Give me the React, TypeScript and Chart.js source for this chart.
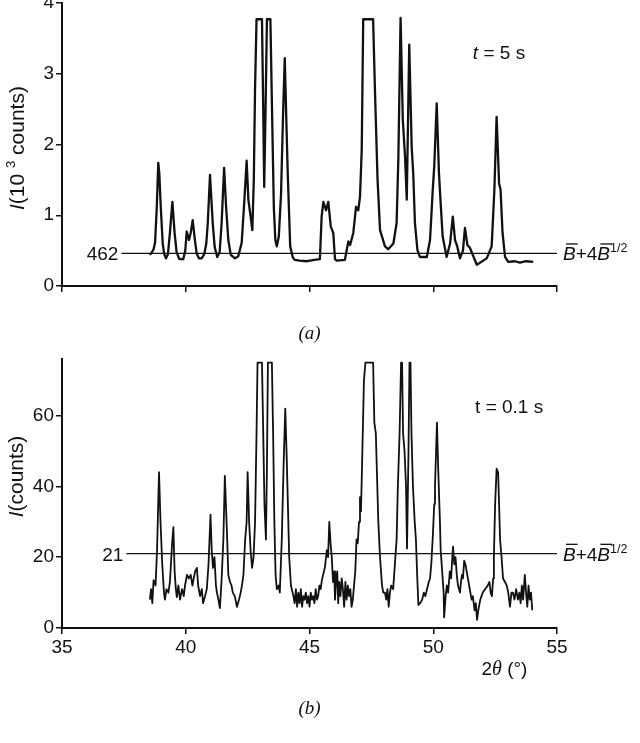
import { useEffect, useRef } from 'react';
import { Chart, registerables } from 'chart.js';
import type { ChartConfiguration, Plugin } from 'chart.js';

Chart.register(...registerables);

// panel (a): t = 5 s, intensity in 10^3 counts
const thetaA = [
  38.55, 38.62, 38.7, 38.76, 38.83, 38.89, 38.93, 38.99, 39.07, 39.13, 39.2, 39.28, 39.36, 39.46, 39.55,
  39.63, 39.74, 39.9, 39.98, 40.04, 40.13, 40.2, 40.28, 40.37, 40.44, 40.54, 40.64, 40.75, 40.83, 40.89,
  40.98, 41.09, 41.17, 41.27, 41.37, 41.45, 41.55, 41.63, 41.72, 41.82, 41.99, 42.12, 42.26, 42.37, 42.46,
  42.53, 42.64, 42.69, 42.75, 42.8, 42.86, 43.08, 43.13, 43.17, 43.22, 43.28, 43.42, 43.48, 43.56, 43.62,
  43.68, 43.76, 43.85, 43.93, 44.0, 44.06, 44.12, 44.22, 44.32, 44.4, 44.6, 44.9, 45.2, 45.42, 45.49,
  45.56, 45.67, 45.76, 45.86, 45.96, 46.03, 46.1, 46.43, 46.57, 46.64, 46.77, 46.88, 46.97, 47.04, 47.11,
  47.17, 47.57, 47.65, 47.75, 47.85, 48.05, 48.18, 48.39, 48.52, 48.59, 48.68, 48.77, 48.86, 48.93, 49.03,
  49.13, 49.19, 49.26, 49.36, 49.46, 49.74, 49.87, 49.98, 50.04, 50.14, 50.23, 50.3, 50.38, 50.54, 50.68,
  50.79, 50.88, 50.97, 51.08, 51.2, 51.28, 51.38, 51.48, 51.76, 52.16, 52.36, 52.47, 52.56, 52.66, 52.72,
  52.8, 52.9, 53.03, 53.3, 53.5, 53.75, 54.04,
];
const intensityA = [
  0.44, 0.47, 0.52, 0.61, 1.12, 1.74, 1.6, 1.12, 0.6, 0.45, 0.39, 0.45, 0.75, 1.19, 0.75,
  0.48, 0.38, 0.38, 0.5, 0.77, 0.65, 0.75, 0.93, 0.65, 0.46, 0.39, 0.39, 0.45, 0.6, 0.89,
  1.57, 0.89, 0.55, 0.41, 0.48, 0.89, 1.67, 1.12, 0.65, 0.44, 0.39, 0.42, 0.61, 1.22, 1.77,
  1.22, 0.93, 0.79, 1.5, 2.8, 3.77, 3.77, 2.5, 1.4, 2.4, 3.77, 3.77, 2.6, 1.1, 0.65,
  0.56, 0.7, 1.3, 2.4, 3.22, 2.4, 1.6, 0.56, 0.41, 0.37, 0.36, 0.35, 0.37, 0.38, 0.98,
  1.19, 1.07, 1.19, 0.84, 0.75, 0.38, 0.36, 0.37, 0.63, 0.58, 0.75, 1.12, 1.07, 1.26, 1.92,
  3.77, 3.77, 2.7, 1.5, 0.79, 0.56, 0.52, 0.6, 0.89, 1.8, 3.79, 2.35, 1.83, 1.22, 3.41,
  1.95, 1.6, 0.89, 0.51, 0.41, 0.41, 0.65, 1.36, 1.69, 2.58, 1.6, 1.17, 0.7, 0.41, 0.6,
  0.98, 0.65, 0.56, 0.39, 0.5, 0.82, 0.58, 0.54, 0.3, 0.39, 0.56, 1.36, 2.39, 1.45, 1.36,
  0.75, 0.41, 0.34, 0.35, 0.33, 0.35, 0.34,
];

// panel (b): t = 0.1 s, counts
const thetaB = [
  38.55, 38.6, 38.65, 38.7, 38.78, 38.84, 38.92, 38.98, 39.05, 39.12, 39.16, 39.22, 39.3, 39.36, 39.45,
  39.5, 39.55, 39.6, 39.64, 39.7, 39.77, 39.85, 39.92, 39.97, 40.05, 40.12, 40.2, 40.27, 40.32, 40.38,
  40.45, 40.5, 40.58, 40.65, 40.7, 40.78, 40.85, 40.92, 41.0, 41.05, 41.1, 41.16, 41.22, 41.26, 41.32,
  41.38, 41.45, 41.52, 41.58, 41.66, 41.72, 41.79, 41.85, 41.9, 41.98, 42.07, 42.15, 42.22, 42.27, 42.33,
  42.4, 42.46, 42.5, 42.56, 42.62, 42.68, 42.74, 42.8, 42.86, 42.9, 43.08, 43.13, 43.18, 43.24, 43.28,
  43.32, 43.48, 43.53, 43.58, 43.63, 43.68, 43.75, 43.8, 43.88, 43.95, 44.02, 44.08, 44.18, 44.25, 44.35,
  44.4, 44.45, 44.5, 44.55, 44.6, 44.65, 44.7, 44.75, 44.8, 44.85, 44.9, 44.95, 45.0, 45.05, 45.1,
  45.15, 45.2, 45.25, 45.3, 45.35, 45.4, 45.45, 45.5, 45.55, 45.62, 45.7, 45.75, 45.8, 45.85, 45.9,
  45.95, 46.0, 46.03, 46.08, 46.12, 46.16, 46.2, 46.25, 46.3, 46.35, 46.4, 46.45, 46.5, 46.55, 46.6,
  46.65, 46.7, 46.75, 46.8, 46.85, 46.9, 46.95, 47.0, 47.04, 47.08, 47.12, 47.2, 47.26, 47.57, 47.62,
  47.68, 47.72, 47.78, 47.85, 47.93, 47.98, 48.05, 48.1, 48.15, 48.2, 48.25, 48.3, 48.38, 48.45, 48.52,
  48.57, 48.64, 48.7, 48.74, 48.78, 48.84, 48.9, 48.94, 49.0, 49.04, 49.08, 49.12, 49.18, 49.25, 49.3,
  49.35, 49.4, 49.47, 49.55, 49.62, 49.68, 49.75, 49.82, 49.87, 49.92, 49.98, 50.04, 50.07, 50.15, 50.2,
  50.27, 50.3, 50.34, 50.38, 50.42, 50.44, 50.5, 50.55, 50.6, 50.67, 50.72, 50.77, 50.8, 50.85, 50.9,
  50.95, 51.0, 51.08, 51.12, 51.16, 51.2, 51.25, 51.3, 51.35, 51.4, 51.45, 51.5, 51.55, 51.6, 51.67,
  51.72, 51.77, 51.82, 51.9, 51.95, 52.0, 52.1, 52.2, 52.27, 52.32, 52.37, 52.42, 52.45, 52.5, 52.56,
  52.62, 52.66, 52.7, 52.76, 52.82, 52.9, 52.97, 53.03, 53.1, 53.16, 53.22, 53.28, 53.35, 53.42, 53.48,
  53.53, 53.58, 53.63, 53.7, 53.75, 53.8, 53.85, 53.9, 53.95, 54.0,
];
const countsB = [
  8, 11, 7, 13.5, 12, 22, 44, 30, 18, 10, 8, 11, 10, 13, 24,
  28.5, 16, 11, 8.7, 12, 8, 11, 9, 12, 15, 14, 15, 12, 14, 16,
  17, 12, 9, 11, 7, 9, 11, 18, 32, 22, 17, 20, 12, 10, 8,
  5.6, 14, 25, 43, 28, 15, 13, 12, 10, 9, 6, 8, 10, 12, 15,
  25, 30, 44, 30, 22, 17, 20, 30, 55, 75, 75, 55, 35, 25, 45,
  75, 75, 55, 30, 15, 11, 12, 10, 25, 45, 62, 48, 20, 12, 9,
  7, 11, 6, 10, 7, 11, 6, 9, 8, 10, 7, 9, 6, 10, 8,
  9, 7, 11, 8, 9, 12, 11, 13.5, 15, 17, 22, 20, 30, 24, 20,
  13, 16, 8, 14, 16, 7, 13, 9, 14, 11, 6, 13, 8, 12, 9,
  11, 6, 8, 12, 16, 25, 24, 30, 37, 33, 45, 70, 75, 75, 58,
  55, 45, 30, 20, 12, 10, 10, 8, 11, 6, 10, 12, 11, 18, 25,
  40, 55, 75, 75, 55, 50, 40, 22.5, 50, 75, 75, 55, 40, 30, 25,
  15, 6.5, 7, 8, 10, 9, 11, 13, 14, 18, 25.6, 35, 40, 58, 45,
  30, 22, 18, 14, 10, 3, 9, 12, 10, 16, 14, 20, 23, 18, 20,
  15, 12, 10, 13, 15, 14, 19, 18, 16, 14, 12, 10, 8, 9, 5,
  7, 2.3, 5, 8, 9, 10, 11, 12, 13, 10, 9, 14, 20, 35, 45,
  44, 35, 25, 20, 14, 13, 12, 10, 6, 10, 10, 8, 11, 8, 10,
  7, 12, 8, 15, 10, 6, 12, 8, 10, 5,
];

const thetaRange = [35, 55];
const yMaxA = 4;
const yMaxB = 76;
const thresholdA = 0.462;
const thresholdB = 21;
const thresholdStartA = 37.4;
const thresholdStartB = 37.6;

const SANS = '"Liberation Sans", Arial, sans-serif';
const SERIF = '"Liberation Serif", "Times New Roman", serif';
const INK = '#111';

type Run = { t: string; font: string; dy?: number; bar?: boolean };

// draws a row of differently styled text pieces, y is the baseline
function drawRuns(ctx: CanvasRenderingContext2D, runs: Run[], x: number, y: number, align: 'left' | 'right' | 'center') {
  ctx.save();
  ctx.fillStyle = INK;
  ctx.textAlign = 'left';
  ctx.textBaseline = 'alphabetic';
  let total = 0;
  for (const r of runs) {
    ctx.font = r.font;
    total += ctx.measureText(r.t).width;
  }
  let cx = align === 'left' ? x : align === 'right' ? x - total : x - total / 2;
  for (const r of runs) {
    ctx.font = r.font;
    const w = ctx.measureText(r.t).width;
    ctx.fillText(r.t, cx, y + (r.dy || 0));
    if (r.bar) ctx.fillRect(cx + 3, y - 17, w - 1, 1.3);
    cx += w;
  }
  ctx.restore();
}

const f = (size: number, style = '', family = SANS) => `${style} ${size}px ${family}`.trim();

const thresholdLabel: Run[] = [
  { t: 'B', font: f(19, 'italic'), bar: true },
  { t: '+4', font: f(19) },
  { t: 'B', font: f(19, 'italic'), bar: true },
  { t: '1/2', font: f(12.5), dy: -8 },
];

interface PanelSpec {
  theta: number[];
  values: number[];
  yMax: number;
  yStep: number;
  threshold: number;
  thresholdStart: number;
  thresholdText: string;
  showXLabels: boolean;
  lineWidth: number;
  padTop: number;
  xAxisHeight: number;
  drawText: (chart: Chart) => void;
}

function buildConfig(p: PanelSpec): ChartConfiguration<'line'> {
  const textPlugin: Plugin<'line'> = {
    id: 'panelText',
    afterDraw(chart) {
      const ctx = chart.ctx;
      const x = chart.scales.x;
      const y = chart.scales.y;
      const ly = y.getPixelForValue(p.threshold);
      drawRuns(ctx, [{ t: p.thresholdText, font: f(19) }], x.getPixelForValue(p.thresholdStart) - 3, ly + 7, 'right');
      drawRuns(ctx, thresholdLabel, x.right + 6, ly + 7, 'left');
      p.drawText(chart);
    },
  };
  return {
    type: 'line',
    data: {
      datasets: [
        {
          data: p.theta.map((t, i) => ({ x: t, y: p.values[i] })),
          borderColor: INK,
          borderWidth: p.lineWidth,
          pointRadius: 0,
          tension: 0,
          borderJoinStyle: 'round',
        },
        {
          data: [
            { x: p.thresholdStart, y: p.threshold },
            { x: thetaRange[1], y: p.threshold },
          ],
          borderColor: INK,
          borderWidth: 1.2,
          pointRadius: 0,
        },
      ],
    },
    options: {
      responsive: false,
      animation: false,
      events: [],
      layout: { padding: { top: p.padTop, right: 83, left: 0, bottom: 0 } },
      plugins: { legend: { display: false }, tooltip: { enabled: false } },
      scales: {
        x: {
          type: 'linear',
          min: thetaRange[0],
          max: thetaRange[1],
          afterFit: (s) => {
            s.height = p.xAxisHeight;
          },
          ticks: {
            stepSize: 5,
            display: p.showXLabels,
            color: INK,
            padding: 2,
            font: { family: SANS, size: 19 },
          },
          grid: { drawOnChartArea: false, drawTicks: true, tickLength: 6, color: INK, lineWidth: 1.5 },
          border: { display: true, color: INK, width: 2 },
        },
        y: {
          min: 0,
          max: p.yMax,
          afterFit: (s) => {
            s.width = 62;
          },
          ticks: {
            stepSize: p.yStep,
            includeBounds: false,
            color: INK,
            padding: 2,
            font: { family: SANS, size: 19 },
          },
          grid: { drawOnChartArea: false, drawTicks: true, tickLength: 6, color: INK, lineWidth: 1.5 },
          border: { display: true, color: INK, width: 2 },
        },
      },
    },
    plugins: [textPlugin],
  };
}

function drawYTitle(ctx: CanvasRenderingContext2D, runs: Run[], cx: number, cy: number) {
  ctx.save();
  ctx.translate(cx, cy);
  ctx.rotate(-Math.PI / 2);
  drawRuns(ctx, runs, 0, 7, 'center');
  ctx.restore();
}

const panelA: PanelSpec = {
  theta: thetaA,
  values: intensityA,
  yMax: yMaxA,
  yStep: 1,
  threshold: thresholdA,
  thresholdStart: thresholdStartA,
  thresholdText: '462',
  showXLabels: false,
  lineWidth: 2.3,
  padTop: 23,
  xAxisHeight: 59,
  drawText: (chart) => {
    const ctx = chart.ctx;
    const x = chart.scales.x;
    const y = chart.scales.y;
    drawRuns(
      ctx,
      [
        { t: 't', font: f(19, 'italic') },
        { t: ' = 5 s', font: f(19) },
      ],
      x.getPixelForValue(51.6),
      y.getPixelForValue(3.31) + 7,
      'left',
    );
    drawYTitle(
      ctx,
      [
        { t: 'I', font: f(21, 'italic') },
        { t: '(10 ', font: f(21) },
        { t: '3', font: f(13), dy: -9 },
        { t: ' counts)', font: f(21) },
      ],
      17,
      y.getPixelForValue(1.95),
    );
    drawRuns(ctx, [{ t: '(a)', font: f(19, 'italic', SERIF) }], (x.left + x.right) / 2, chart.chartArea.bottom + 53, 'center');
  },
};

const panelB: PanelSpec = {
  theta: thetaB,
  values: countsB,
  yMax: yMaxB,
  yStep: 20,
  threshold: thresholdB,
  thresholdStart: thresholdStartB,
  thresholdText: '21',
  showXLabels: true,
  lineWidth: 1.8,
  padTop: 14,
  xAxisHeight: 115,
  drawText: (chart) => {
    const ctx = chart.ctx;
    const x = chart.scales.x;
    const y = chart.scales.y;
    drawRuns(ctx, [{ t: 't = 0.1 s', font: f(19) }], x.getPixelForValue(51.69), y.getPixelForValue(62.8) + 7, 'left');
    drawRuns(
      ctx,
      [
        { t: '2', font: f(19) },
        { t: 'θ', font: f(20, 'italic', SERIF) },
        { t: ' (°)', font: f(19) },
      ],
      x.getPixelForValue(51.95),
      chart.chartArea.bottom + 47,
      'left',
    );
    drawYTitle(
      ctx,
      [
        { t: 'I', font: f(21, 'italic') },
        { t: '(counts)', font: f(21) },
      ],
      16,
      y.getPixelForValue(42.8),
    );
    drawRuns(ctx, [{ t: '(b)', font: f(19, 'italic', SERIF) }], (x.left + x.right) / 2, chart.chartArea.bottom + 86, 'center');
  },
};

function Panel({ spec, top, height }: { spec: PanelSpec; top: number; height: number }) {
  const canvasRef = useRef<HTMLCanvasElement>(null);
  const chartRef = useRef<Chart | null>(null);

  useEffect(() => {
    if (!canvasRef.current) return;
    if (chartRef.current) chartRef.current.destroy();
    chartRef.current = new Chart(canvasRef.current, buildConfig(spec) as any);
    return () => {
      if (chartRef.current) {
        chartRef.current.destroy();
        chartRef.current = null;
      }
    };
  }, [spec]);

  return (
    <canvas
      ref={canvasRef}
      width={640}
      height={height}
      style={{ position: 'absolute', left: 0, top, width: 640, height }}
    />
  );
}

export default function App() {
  return (
    <div
      style={{
        position: 'absolute',
        left: 0,
        top: 0,
        width: 640,
        height: 743,
        overflow: 'hidden',
        background: '#fff',
      }}
    >
      <Panel spec={panelA} top={-20} height={365} />
      <Panel spec={panelB} top={345} height={398} />
    </div>
  );
}
